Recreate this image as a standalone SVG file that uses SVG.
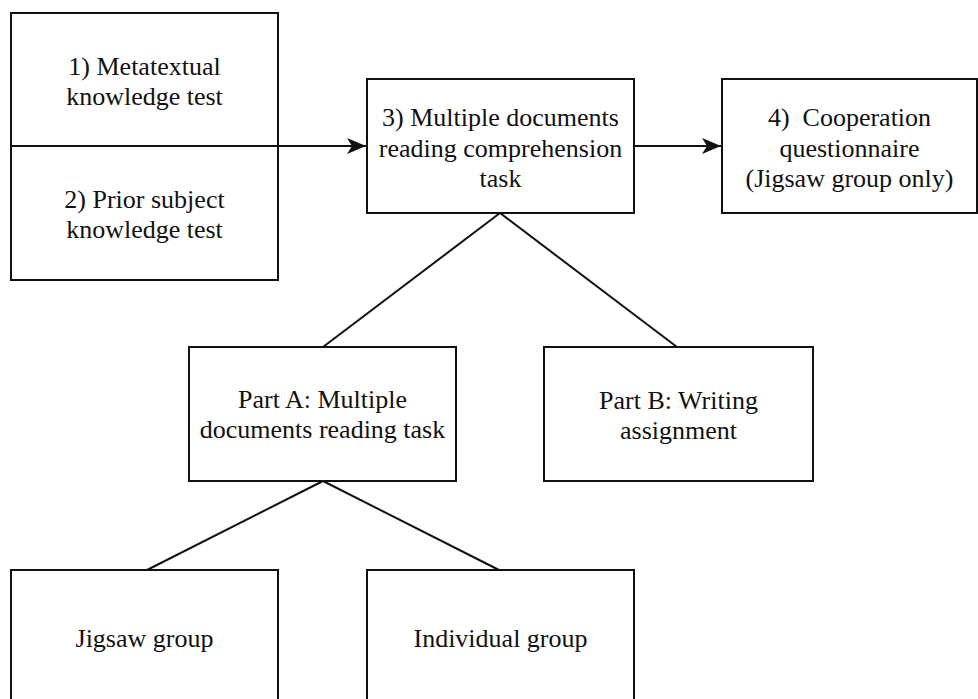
<svg xmlns="http://www.w3.org/2000/svg" width="978" height="699" viewBox="0 0 978 699">
<style>
.box{fill:#fff;stroke:#111;stroke-width:2}
.t{font-family:"Liberation Serif","Times New Roman",serif;font-size:26px;fill:#111;text-anchor:middle;white-space:pre}
.c{stroke:#111;stroke-width:2;fill:none}
</style>
<defs>
<marker id="arr" markerUnits="userSpaceOnUse" viewBox="0 0 19 16" refX="19" refY="8" markerWidth="19" markerHeight="16" orient="auto">
<path d="M0,0 L19,8 L0,16 L5,8 z" fill="#111"/>
</marker>
</defs>
<rect width="978" height="699" fill="#fff"/>
<g id="node1">
<rect class="box" x="11" y="13" width="267" height="133"/>
<text class="t" x="144.5" y="75">1) Metatextual</text>
<text class="t" x="144.5" y="105">knowledge test</text>
</g>
<g id="node2">
<rect class="box" x="11" y="146" width="267" height="134"/>
<text class="t" x="144.5" y="208">2) Prior subject</text>
<text class="t" x="144.5" y="238">knowledge test</text>
</g>
<g id="node3">
<rect class="box" x="367" y="79" width="267" height="134"/>
<text class="t" x="500.5" y="126">3) Multiple documents</text>
<text class="t" x="500.5" y="157">reading comprehension</text>
<text class="t" x="500.5" y="187">task</text>
</g>
<g id="node4">
<rect class="box" x="722" y="79" width="255" height="134"/>
<text class="t" x="849.5" y="126" xml:space="preserve">4)  Cooperation</text>
<text class="t" x="849.5" y="157">questionnaire</text>
<text class="t" x="849.5" y="187">(Jigsaw group only)</text>
</g>
<g id="partA">
<rect class="box" x="189" y="347" width="267" height="134"/>
<text class="t" x="322.5" y="408">Part A: Multiple</text>
<text class="t" x="322.5" y="438">documents reading task</text>
</g>
<g id="partB">
<rect class="box" x="544" y="347" width="269" height="134"/>
<text class="t" x="678.5" y="409">Part B: Writing</text>
<text class="t" x="678.5" y="439">assignment</text>
</g>
<g id="jigsaw">
<rect class="box" x="11" y="570" width="267" height="140"/>
<text class="t" x="144.5" y="647">Jigsaw group</text>
</g>
<g id="individual">
<rect class="box" x="367" y="570" width="267" height="140"/>
<text class="t" x="500.5" y="647">Individual group</text>
</g>
<g id="connectors">
<line class="c" x1="278" y1="146" x2="366" y2="146" marker-end="url(#arr)"/>
<line class="c" x1="634" y1="146" x2="721" y2="146" marker-end="url(#arr)"/>
<line class="c" x1="500" y1="213" x2="323" y2="347"/>
<line class="c" x1="500" y1="213" x2="677" y2="347"/>
<line class="c" x1="323" y1="481" x2="147" y2="570"/>
<line class="c" x1="323" y1="481" x2="499" y2="570"/>
</g>
</svg>
